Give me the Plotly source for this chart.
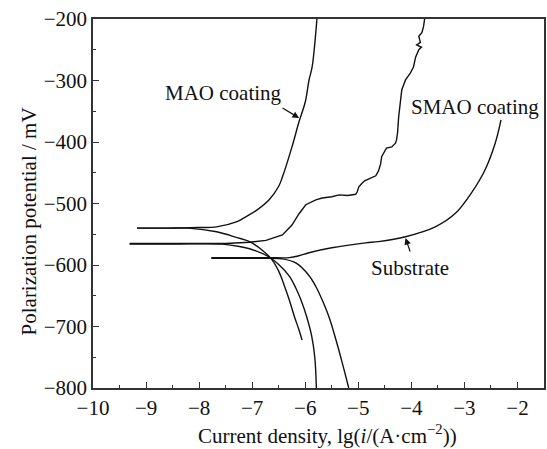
import plotly.graph_objects as go

# MAO coating
mao_cath_x = [-9.17, -8.6, -8.2, -7.67, -7.30, -7.05, -6.81, -6.64, -6.50, -6.40, -6.30, -6.20, -6.12, -6.06]
mao_cath_y = [-540, -540, -540, -546, -555, -562, -576, -590, -610, -632, -657, -685, -705, -722]
mao_anod_x = [-9.17, -8.5, -8.0, -7.67, -7.30, -7.09, -6.90, -6.68, -6.50, -6.43, -6.25, -6.12, -6.00, -5.93, -5.87, -5.82, -5.78]
mao_anod_y = [-540, -540, -539, -538, -530, -520, -510, -494, -472, -457, -408, -368, -335, -300, -278, -240, -200]

# SMAO coating
smao_cath_x = [-9.31, -8.5, -7.56, -7.24, -6.93, -6.68, -6.49, -6.30, -6.18, -6.08, -5.97, -5.88, -5.82, -5.79]
smao_cath_y = [-566, -566, -566, -570, -577, -587, -600, -618, -637, -657, -685, -715, -750, -800]
smao_anod_x = [-9.31, -8.5, -7.50, -7.05, -6.74, -6.43, -6.25, -6.12, -5.99, -5.80, -5.68, -5.50, -5.36, -5.20, -5.05, -5.02,
               -4.99, -4.93, -4.88, -4.80, -4.67, -4.62, -4.58, -4.56, -4.52, -4.47, -4.37, -4.30, -4.28, -4.26,
               -4.24, -4.20, -4.18, -4.11, -4.02, -3.96, -3.92, -3.86, -3.81, -3.90, -3.83, -3.86, -3.80, -3.77, -3.75]
smao_anod_y = [-565, -565, -565, -563, -560, -551, -535, -517, -502, -494, -491, -489, -486, -487, -485, -481,
               -473, -467, -463, -460, -455, -447, -436, -424, -418, -410, -408, -402, -397, -385,
               -360, -330, -315, -299, -288, -278, -262, -250, -246, -242, -238, -228, -222, -212, -200]

# Substrate
sub_cath_x = [-7.77, -7.0, -6.68, -6.43, -6.17, -5.93, -5.80, -5.68, -5.55, -5.42, -5.30, -5.18]
sub_cath_y = [-589, -589, -589, -590, -597, -617, -635, -657, -685, -722, -760, -800]
sub_anod_x = [-7.77, -7.0, -6.68, -6.30, -6.12, -5.93, -5.50, -4.86, -4.62, -4.11, -3.55, -3.17, -2.87, -2.61, -2.42, -2.31]
sub_anod_y = [-588, -588, -588, -588, -585, -580, -572, -564, -562, -554, -538, -516, -483, -445, -402, -364]

x_ticks = [-10, -9, -8, -7, -6, -5, -4, -3, -2]
y_ticks = [-800, -700, -600, -500, -400, -300, -200]

FONT = "Liberation Serif"
line = dict(color="#111", width=1.4)

fig = go.Figure()
for xs, ys, shape in [(mao_cath_x, mao_cath_y, "spline"), (mao_anod_x, mao_anod_y, "spline"),
                      (smao_cath_x, smao_cath_y, "spline"), (smao_anod_x, smao_anod_y, "linear"),
                      (sub_cath_x, sub_cath_y, "spline"), (sub_anod_x, sub_anod_y, "spline")]:
    fig.add_trace(go.Scatter(x=xs, y=ys, mode="lines", line=dict(line, shape=shape),
                             showlegend=False, hoverinfo="skip"))

axis_common = dict(showline=True, linecolor="#333", linewidth=1.5, mirror=True,
                   ticks="inside", tickcolor="#333", tickwidth=1.3, ticklen=6,
                   showgrid=False, zeroline=False,
                   tickfont=dict(family=FONT, size=21, color="#111"))

fig.update_xaxes(range=[-10, -1.5], tickvals=x_ticks,
                 minor=dict(ticks="inside", dtick=0.5, ticklen=3, tickcolor="#333", tickwidth=1.2),
                 **axis_common)
fig.update_yaxes(range=[-800, -200], tickvals=y_ticks,
                 minor=dict(ticks="inside", dtick=50, ticklen=3, tickcolor="#333", tickwidth=1.2),
                 **axis_common)

ann_font = dict(family=FONT, size=21, color="#111")
fig.update_layout(
    width=547, height=449,
    margin=dict(l=93, r=1, t=19, b=61),
    plot_bgcolor="white", paper_bgcolor="white",
    annotations=[
        dict(text="Current density, lg(<i>i</i>/(A·cm<sup>−2</sup>))", xref="paper", yref="paper",
             x=0.52, y=-0.127, xanchor="center", yanchor="middle", showarrow=False, font=ann_font),
        dict(text="Polarization potential / mV", xref="paper", yref="paper",
             x=-0.143, y=0.45, xanchor="center", yanchor="middle", textangle=-90,
             showarrow=False, font=ann_font),
        dict(text="MAO coating", x=-7.54, y=-320, xref="x", yref="y", showarrow=False, font=ann_font),
        dict(text="SMAO coating", x=-2.80, y=-343, xref="x", yref="y", showarrow=False, font=ann_font),
        dict(text="Substrate", x=-4.02, y=-605, xref="x", yref="y", showarrow=False, font=ann_font),
        dict(text="", x=-6.116, y=-361, xref="x", yref="y", showarrow=True, ax=-18, ay=-11,
             arrowhead=2, arrowsize=1.1, arrowwidth=1.2, arrowcolor="#111"),
        dict(text="", x=-4.109, y=-556, xref="x", yref="y", showarrow=True, ax=5, ay=15,
             arrowhead=2, arrowsize=1.1, arrowwidth=1.2, arrowcolor="#111"),
    ],
)

fig.write_html("out.html")
